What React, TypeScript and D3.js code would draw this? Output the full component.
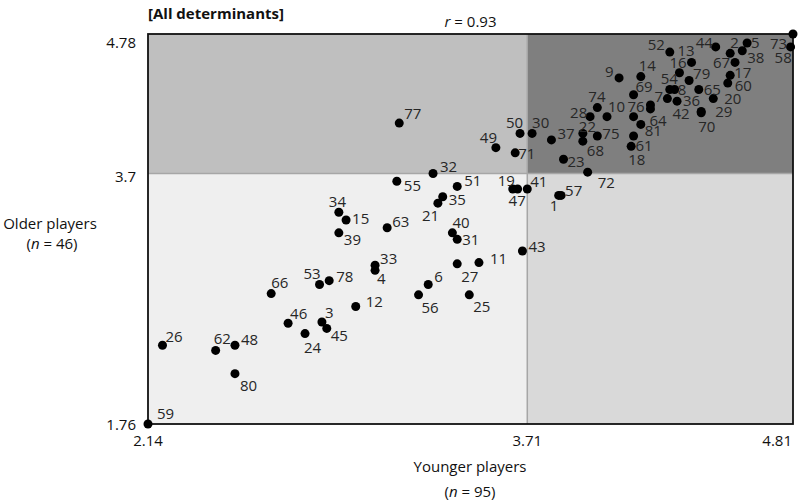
import React from "react";
import * as d3 from "d3";

// ---- Data ----
const playerIds = [
  1, 2, 3, 4, 5, 6, 7, 8, 9, 10, 11, 12, 13, 14, 15, 16, 17, 18, 19, 20,
  21, 22, 23, 24, 25, 26, 27, 28, 29, 30, 31, 32, 33, 34, 35, 36, 37, 38, 39, 40,
  41, 42, 43, 44, 45, 46, 47, 48, 49, 50, 51, 52, 53, 54, 55, 56, 57, 58, 59, 60,
  61, 62, 63, 64, 65, 66, 67, 68, 69, 70, 71, 72, 73, 74, 75, 76, 77, 78, 79, 80, 81,
];
const youngerScores = [
  3.84, 4.55, 2.86, 3.08, 4.62, 3.30, 4.22, 4.32, 4.09, 4.04, 3.51, 3.00, 4.39, 4.18, 2.96, 4.34, 4.55, 4.14, 3.65, 4.48,
  3.34, 3.94, 3.86, 2.79, 3.47, 2.20, 3.42, 3.97, 4.43, 3.73, 3.42, 3.32, 3.08, 2.93, 3.36, 4.33, 3.81, 4.60, 2.93, 3.40,
  3.71, 4.29, 3.69, 4.49, 2.88, 2.72, 3.67, 2.50, 3.58, 3.68, 3.42, 4.30, 2.85, 4.30, 3.17, 3.26, 3.85, 4.80, 2.14, 4.54,
  4.15, 2.42, 3.13, 4.22, 4.42, 2.65, 4.57, 3.94, 4.15, 4.43, 3.66, 3.96, 4.81, 4.00, 4.00, 4.15, 3.18, 2.89, 4.38, 2.50, 4.18,
];
const olderScores = [
  3.53, 4.63, 2.55, 2.95, 4.71, 2.84, 4.23, 4.35, 4.44, 4.14, 3.01, 2.67, 4.56, 4.45, 3.34, 4.48, 4.46, 3.91, 3.58, 4.28,
  3.47, 4.01, 3.81, 2.46, 2.76, 2.37, 3.00, 4.14, 4.18, 4.01, 3.19, 3.70, 2.99, 3.40, 3.52, 4.26, 3.96, 4.65, 3.24, 3.24,
  3.58, 4.28, 3.10, 4.68, 2.50, 2.54, 3.58, 2.37, 3.90, 4.01, 3.60, 4.64, 2.84, 4.35, 3.64, 2.76, 3.53, 4.68, 1.76, 4.40,
  3.99, 2.33, 3.28, 4.20, 4.35, 2.77, 4.56, 3.95, 4.31, 4.17, 3.86, 3.71, 4.78, 4.21, 3.99, 4.14, 4.09, 2.87, 4.42, 2.15, 4.08,
];
const xTicks = [2.14, 3.71, 4.81];
const yTicks = [1.76, 3.7, 4.78];
const xSplit = 3.71;
const ySplit = 3.7;
const chartTitle = "[All determinants]";
const corrLabel = "0.93";
const xTitle = "Younger players";
const xN = "95";
const yTitle = "Older players";
const yN = "46";

// ---- Layout: label offsets (px) from dot centre to label start/baseline ----
const labelOffsets: Record<number, [number, number]> = {
  1: [-9, 16], 2: [0, -5], 3: [3, -4], 4: [2, 14], 5: [4, 5], 6: [6, -3], 7: [4, -3], 8: [3, 5],
  9: [-14, -1], 10: [1, -5], 11: [11, 1], 12: [10, 1], 13: [-14, -6], 14: [-2, -6], 15: [6, 4],
  16: [-10, -5], 17: [4, 3], 18: [-3, 19], 19: [-15, -3], 20: [11, 5], 21: [-16, 18], 22: [-4, -1],
  23: [4, 8], 24: [-1, 19], 25: [4, 17], 26: [3, -3], 27: [4, 18], 28: [-20, 1], 29: [14, 6],
  30: [0, -5], 31: [5, 6], 32: [7, -1], 33: [5, -1], 34: [-10, -5], 35: [6, 8], 36: [6, 5],
  37: [6, -1], 38: [5, 12], 39: [5, 12], 40: [0, -5], 41: [3, -2], 42: [5, 20], 43: [6, 1],
  44: [-20, 1], 45: [4, 13], 46: [2, -4], 47: [-9, 17], 48: [6, 0], 49: [-16, -5], 50: [-14, -5],
  51: [7, 0], 52: [-22, -2], 53: [-16, -6], 54: [-9, -6], 55: [7, 10], 56: [3, 18], 57: [4, 1],
  58: [-16, 16], 59: [9, -5], 60: [7, 8], 61: [2, 15], 62: [-2, -6], 63: [5, -1], 64: [-1, 17],
  65: [5, 5], 66: [0, -6], 67: [-22, 6], 68: [4, 15], 69: [2, -3], 70: [-3, 19], 71: [3, 6],
  72: [10, 16], 73: [-23, 15], 74: [-9, -6], 75: [5, 3], 76: [-6, -5], 77: [5, -4], 78: [7, 1],
  79: [4, -1], 80: [5, 17], 81: [4, 12],
};

const W = 800;
const H = 502;
const M = { left: 148, right: 793, top: 34, bottom: 424 };
const FONT = "'Open Sans', 'Liberation Sans', sans-serif";

export default function App() {
  const x = d3.scaleLinear().domain([xTicks[0], xTicks[2]]).range([M.left, M.right]);
  const y = d3.scaleLinear().domain([yTicks[0], yTicks[2]]).range([M.bottom, M.top]);

  const points = playerIds.map((id, i) => ({ id, xv: youngerScores[i], yv: olderScores[i] }));

  const xs = x(xSplit);
  const ys = y(ySplit);

  return (
    <svg
      width={W}
      height={H}
      style={{ position: "absolute", left: 0, top: 0, background: "#fff" }}
      fontFamily={FONT}
    >
      {/* quadrants */}
      <rect x={M.left} y={M.top} width={xs - M.left} height={ys - M.top} fill="#bfbfbf" />
      <rect x={xs} y={M.top} width={M.right - xs} height={ys - M.top} fill="#7f7f7f" />
      <rect x={M.left} y={ys} width={xs - M.left} height={M.bottom - ys} fill="#efefef" />
      <rect x={xs} y={ys} width={M.right - xs} height={M.bottom - ys} fill="#d9d9d9" />
      <line x1={xs} x2={xs} y1={M.top} y2={M.bottom} stroke="#a6a6a6" strokeWidth={1.5} />
      <line x1={M.left} x2={M.right} y1={ys} y2={ys} stroke="#a6a6a6" strokeWidth={1.5} />
      <rect
        x={M.left}
        y={M.top}
        width={M.right - M.left}
        height={M.bottom - M.top}
        fill="none"
        stroke="#111"
        strokeWidth={1.8}
      />

      {/* titles */}
      <text x={148} y={19} fontSize={15} fontWeight="bold" fill="#111">{chartTitle}</text>
      <text x={(M.left + M.right) / 2} y={27} fontSize={15} textAnchor="middle" fill="#111">
        <tspan fontStyle="italic">r</tspan> = {corrLabel}
      </text>

      {/* y ticks */}
      {yTicks.map((t, i) => (
        <text
          key={"yt" + i}
          x={136}
          y={y(t) + (i === 2 ? 14 : i === 1 ? 9 : 6)}
          fontSize={15}
          textAnchor="end"
          fill="#111"
        >
          {t}
        </text>
      ))}
      {/* x ticks */}
      {xTicks.map((t, i) => (
        <text
          key={"xt" + i}
          x={i === 2 ? M.right - 1 : x(t)}
          y={446}
          fontSize={15}
          textAnchor={i === 2 ? "end" : "middle"}
          fill="#111"
        >
          {t}
        </text>
      ))}

      {/* axis titles */}
      <text x={470} y={472} fontSize={15} textAnchor="middle" fill="#111">{xTitle}</text>
      <text x={470} y={497} fontSize={15} textAnchor="middle" fill="#111">
        (<tspan fontStyle="italic">n</tspan> = {xN})
      </text>
      <text x={50} y={229} fontSize={15} textAnchor="middle" fill="#111">{yTitle}</text>
      <text x={52} y={249} fontSize={15} textAnchor="middle" fill="#111">
        (<tspan fontStyle="italic">n</tspan> = {yN})
      </text>

      {/* dots */}
      {points.map((p) => (
        <circle key={"c" + p.id} cx={x(p.xv)} cy={y(p.yv)} r={4.5} fill="#000" />
      ))}
      {/* labels */}
      {points.map((p) => {
        const off = labelOffsets[p.id] || [4, -4];
        return (
          <text
            key={"l" + p.id}
            x={x(p.xv) + off[0]}
            y={y(p.yv) + off[1]}
            fontSize={15}
            fill="#262626"
          >
            {p.id}
          </text>
        );
      })}
    </svg>
  );
}
